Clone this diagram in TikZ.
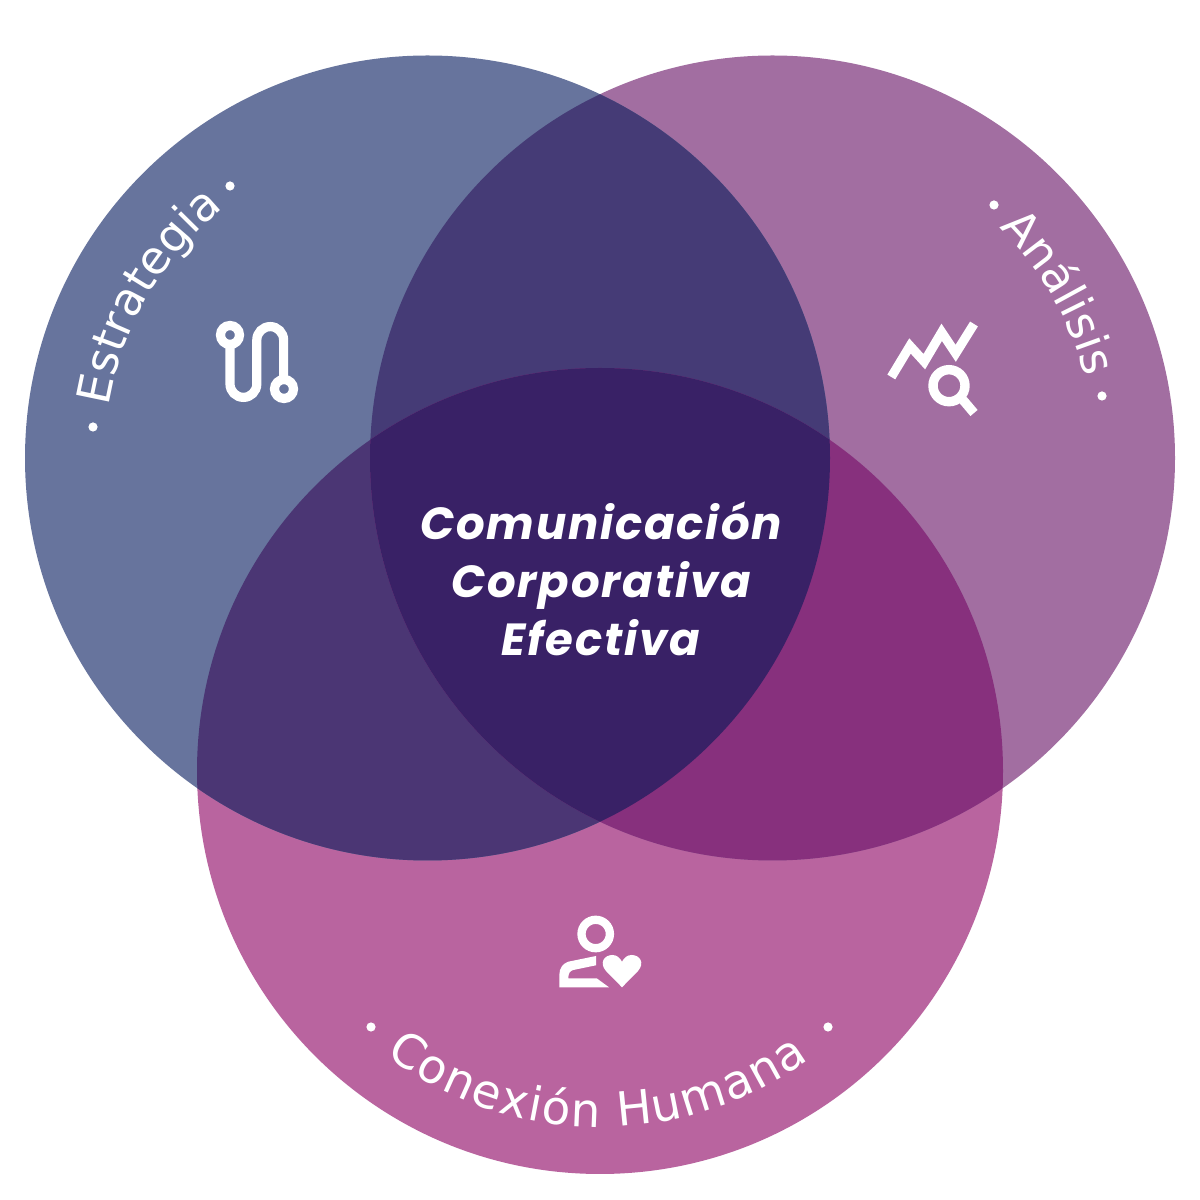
\documentclass[tikz,border=0pt]{standalone}
\usepackage{fontspec}
\setmainfont{Poppins}
\newfontfamily\labelfont{DejaVu Sans}
\usetikzlibrary{decorations.text}
\definecolor{cL}{HTML}{67749D}
\definecolor{cR}{HTML}{A26EA1}
\definecolor{cB}{HTML}{B9649F}
\definecolor{cLR}{HTML}{453B76}
\definecolor{cLB}{HTML}{4B3674}
\definecolor{cRB}{HTML}{87307D}
\definecolor{cLRB}{HTML}{392166}
\tikzset{
  curvedlabel/.style 2 args={decorate,decoration={text along path,text align=center,text={|\labelfont\fontsize{#1}{#1}\selectfont\color{white}|#2}}},
  fittedlabel/.style 2 args={decorate,decoration={text along path,text align={fit to path},text={|\labelfont\fontsize{#1}{#1}\selectfont\color{white}|#2}}},
  iconline/.style={draw=white,line width=9.2pt,fill=none},
  dot/.style={fill=white}
}
\def\cL{(427.5,742) circle (402.5)}
\def\cR{(772.5,742) circle (402.5)}
\def\cB{(600,429) circle (403)}
\begin{document}
\begin{tikzpicture}[x=1pt,y=1pt]
\useasboundingbox (0,0) rectangle (1200,1200);
\fill[white] (0,0) rectangle (1200,1200);
% circles
\fill[cB] \cB;
\fill[cR] \cR;
\fill[cL] \cL;
\begin{scope}\clip \cL; \fill[cLR] \cR; \end{scope}
\begin{scope}\clip \cL; \fill[cLB] \cB; \end{scope}
\begin{scope}\clip \cR; \fill[cRB] \cB; \end{scope}
\begin{scope}\clip \cL; \clip \cR; \fill[cLRB] \cB; \end{scope}
% centre
\node[text=white,align=center,font=\fontsize{45}{58}\selectfont\bfseries\itshape\addfontfeature{LetterSpace=4}] (centre) at (601,621) {Comunicación\\Corporativa\\Efectiva};
% dots
\fill[dot] (93,773) circle (4.6);
\fill[dot] (230,1014) circle (4.6);
\fill[dot] (994,995) circle (4.6);
\fill[dot] (1102,804) circle (4.6);
\fill[dot] (371,173) circle (4.6);
\fill[dot] (828,173) circle (4.6);
% curved labels
\path[curvedlabel={46}{Estrategia}] (427.5,742) ++(185:323) arc (185:115:323);
\path[curvedlabel={46}{Análisis}] (772.5,742) ++(65:323) arc (65:-5:323);
\path[fittedlabel={47}{Conexión Humana}] (600,429) ++(-127:356) arc (-127:-54:356);
% icon Estrategia
\draw[iconline] (230,865) circle (9.5);
\draw[iconline] (284,811) circle (9.5);
\draw[iconline] (230,855) -- (230,816) arc (180:360:13.4) -- (256.8,860) arc (180:0:13.4) -- (283.6,821);
% icon Analisis
\draw[iconline,miter limit=10] (891.3,823) -- (910,854) -- (924.3,838.3) -- (941.7,867.7) -- (955.7,846.7) -- (974,876);
\draw[iconline,line width=9.4pt] (949,814.3) circle (16);
\draw[iconline,line width=9.4pt] (963,800) -- (974,787);
% icon Conexion Humana
\draw[iconline,line width=8.3pt] (595.7,266) circle (14.2);
\fill[white] (559.3,212.7) -- (559.3,225) .. controls (559.3,232) and (563,236.5) .. (568.3,238.3) -- (596,244) -- (596,234.7) -- (573.3,230) .. controls (570,229) and (568.3,227) .. (568.3,221.7) -- (596.7,221.7) -- (609,212.7) -- cycle;
\fill[white] (622,212.7) -- (606,229) .. controls (599,237) and (604,245) .. (612.5,245) .. controls (617,245) and (620,242) .. (622,238.3) .. controls (624,242) and (627,245) .. (631.5,245) .. controls (640,245) and (645,237) .. (638,229) -- cycle;
\end{tikzpicture}
\end{document}
